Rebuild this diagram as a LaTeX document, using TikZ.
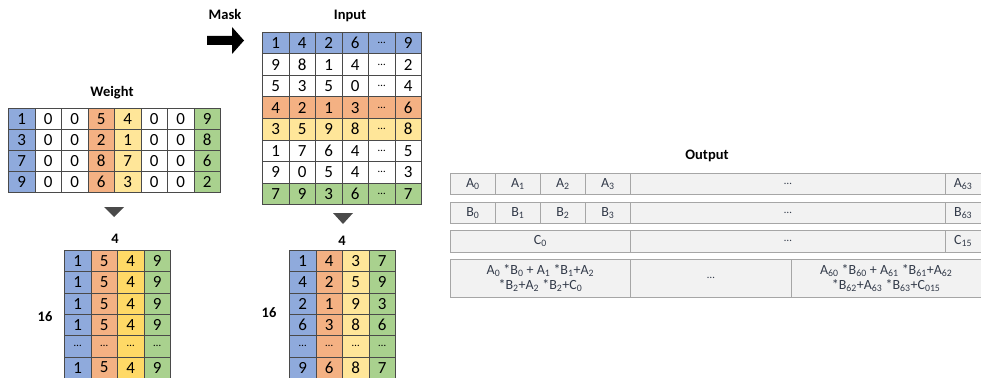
\documentclass[tikz,border=0pt]{standalone}
\usepackage{fontspec}
\setmainfont{Carlito}
\usetikzlibrary{shapes.geometric, positioning}
\definecolor{cblue}{HTML}{8FAADC}
\definecolor{corange}{HTML}{F4B183}
\definecolor{cyellow}{HTML}{FFD966}
\definecolor{cyellowl}{HTML}{FFE699}
\definecolor{cgreen}{HTML}{A9D18E}
\definecolor{gridline}{HTML}{4A4A4A}
\definecolor{obg}{HTML}{F2F2F2}
\definecolor{oline}{HTML}{A6A6A6}
\definecolor{otext}{HTML}{333B4A}
\newcommand\smalldots{{\fontsize{11}{12}\selectfont …}}
\newcommand\idx[1]{\textsubscript{#1}}

\begin{document}
\begin{tikzpicture}[
          x=1pt, y=-1pt,
          cell/.style={draw=gridline, line width=0.8pt, anchor=north west, minimum width=26.5pt, minimum height=#1, inner sep=0pt, font=\fontsize{17}{20}\selectfont},
          cell/.default=21.3pt,
          title/.style={font=\fontsize{14.5}{17}\selectfont\bfseries},
          ocell/.style={draw=oline, line width=0.8pt, fill=obg, anchor=north west, inner sep=0pt, text=otext, font=\fontsize{14}{15}\selectfont, align=center}
        ]
          \useasboundingbox (0,0) rectangle (981,377);

          % Weight matrix
          \node[title] (wtitle) at (112,93) {Weight};
          \foreach \row [count=\i] in {{1,0,0,5,4,0,0,9},{3,0,0,2,1,0,0,8},{7,0,0,8,7,0,0,6},{9,0,0,6,3,0,0,2}}
            \foreach \v [count=\j] in \row {
              \pgfmathsetmacro\fc{{"cblue","white","white","corange","cyellowl","white","white","cgreen"}[\j-1]}
              \node[cell=21pt, fill=\fc] (w-\i-\j) at ({8+(\j-1)*26.5}, {108+(\i-1)*21}) {\v};
            }

          % Mask arrow
          \node[title] (masktext) at (225,14) {Mask};
          \fill[black] (207,36) -- (232,36) -- (232,27) -- (244,40.5) -- (232,54) -- (232,45) -- (207,45) -- cycle;

          % Input matrix
          \node[title] (ititle) at (350,16) {Input};
          \foreach \row [count=\i] in {{1,4,2,6,\smalldots,9},{9,8,1,4,\smalldots,2},{5,3,5,0,\smalldots,4},{4,2,1,3,\smalldots,6},{3,5,9,8,\smalldots,8},{1,7,6,4,\smalldots,5},{9,0,5,4,\smalldots,3},{7,9,3,6,\smalldots,7}}
            \foreach \v [count=\j] in \row {
              \pgfmathsetmacro\fc{{"cblue","white","white","corange","cyellowl","white","white","cgreen"}[\i-1]}
              \node[cell=21.5pt, fill=\fc] (in-\i-\j) at ({262+(\j-1)*26.5}, {32+(\i-1)*21.5}) {\v};
            }

          % Down markers
          \fill[gridline] (104,207) -- (124,207) -- (114,217) -- cycle;
          \fill[gridline] (333,213) -- (353,213) -- (343,224) -- cycle;

          % Packed weight
          \node[title] (wcols) at (115,239) {4};
          \node[title] (wrows) at (45,317) {16};
          \foreach \row [count=\i] in {{1,5,4,9},{1,5,4,9},{1,5,4,9},{1,5,4,9},{\smalldots,\smalldots,\smalldots,\smalldots},{1,5,4,9}}
            \foreach \v [count=\j] in \row {
              \pgfmathsetmacro\fc{{"cblue","corange","cyellow","cgreen"}[\j-1]}
              \node[cell, fill=\fc] (pw-\i-\j) at ({64+(\j-1)*26.5}, {250+(\i-1)*21.3}) {\v};
            }

          % Packed input
          \node[title] (icols) at (342,241) {4};
          \node[title] (irows) at (269,313) {16};
          \foreach \row [count=\i] in {{1,4,3,7},{4,2,5,9},{2,1,9,3},{6,3,8,6},{\smalldots,\smalldots,\smalldots,\smalldots},{9,6,8,7}}
            \foreach \v [count=\j] in \row {
              \pgfmathsetmacro\fc{{"cblue","corange","cyellowl","cgreen"}[\j-1]}
              \node[cell, fill=\fc] (pi-\i-\j) at ({289+(\j-1)*26.5}, {250+(\i-1)*21.3}) {\v};
            }

          % Output
          \node[title] (otitle) at (707,156) {Output};
          \foreach \k [count=\j] in {0,1,2,3} {
            \node[ocell, minimum width=45pt, minimum height=21pt] (oa-\k) at ({450+(\j-1)*45}, 173) {A\idx{\k}};
            \node[ocell, minimum width=45pt, minimum height=21pt] (ob-\k) at ({450+(\j-1)*45}, 202) {B\idx{\k}};
          }
          \node[ocell, minimum width=315pt, minimum height=21pt] (oa-dots) at (630,173) {\smalldots};
          \node[ocell, minimum width=35.5pt, minimum height=21pt] (oa-63) at (945,173) {A\idx{63}};
          \node[ocell, minimum width=315pt, minimum height=21pt] (ob-dots) at (630,202) {\smalldots};
          \node[ocell, minimum width=35.5pt, minimum height=21pt] (ob-63) at (945,202) {B\idx{63}};
          \node[ocell, minimum width=180pt, minimum height=22pt] (oc-0) at (450,230) {C\idx{0}};
          \node[ocell, minimum width=315pt, minimum height=22pt] (oc-dots) at (630,230) {\smalldots};
          \node[ocell, minimum width=35.5pt, minimum height=22pt] (oc-15) at (945,230) {C\idx{15}};
          \node[ocell, minimum width=180pt, minimum height=38pt] (od-0) at (450,259) {A\idx{0} *B\idx{0} + A\idx{1} *B\idx{1}+A\idx{2}\\*B\idx{2}+A\idx{2} *B\idx{2}+C\idx{0}};
          \node[ocell, minimum width=161pt, minimum height=38pt] (od-dots) at (630,259) {\smalldots};
          \node[ocell, minimum width=189.5pt, minimum height=38pt] (od-15) at (791,259) {A\idx{60} *B\idx{60} + A\idx{61} *B\idx{61}+A\idx{62}\\*B\idx{62}+A\idx{63} *B\idx{63}+C\idx{015}};
        \end{tikzpicture}
\end{document}
